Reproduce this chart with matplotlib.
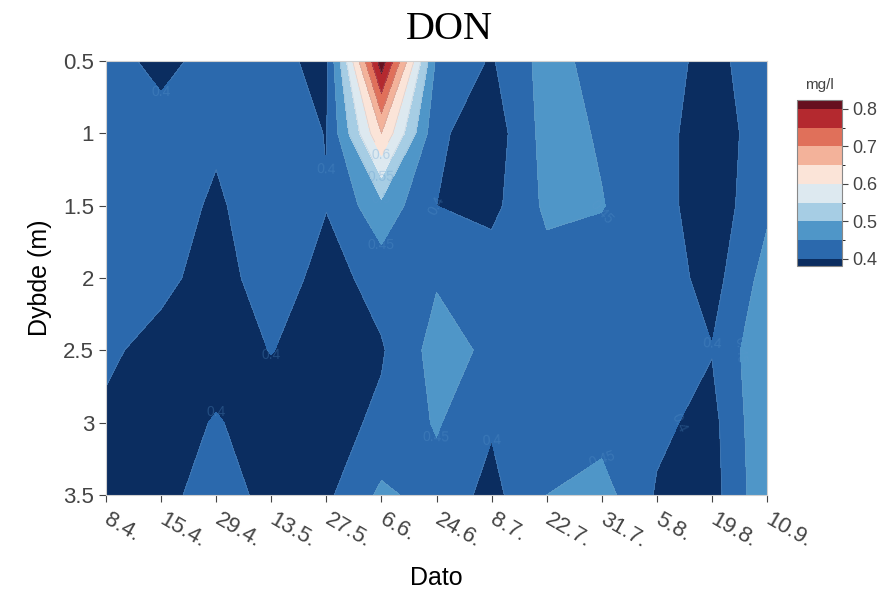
import numpy as np
import matplotlib
matplotlib.use("Agg")
from matplotlib import pyplot as plt
from matplotlib.colors import ListedColormap, BoundaryNorm

plt.rcParams['font.family'] = ['Liberation Sans', 'DejaVu Sans']

# sampling dates and depths
dates = ['8.4.', '15.4.', '29.4.', '13.5.', '27.5.', '6.6.', '24.6.',
         '8.7.', '22.7.', '31.7.', '5.8.', '19.8.', '10.9.']
depths = [0.5, 1.0, 1.5, 2.0, 2.5, 3.0, 3.5]
depth_labels = ['0.5', '1', '1.5', '2', '2.5', '3', '3.5']

# DON (mg/l), one row per depth, one column per date
don = [
    [0.42, 0.385, 0.42, 0.41, 0.39, 0.83, 0.44, 0.395, 0.47, 0.43, 0.42, 0.385, 0.43],
    [0.43, 0.42, 0.41, 0.43, 0.398, 0.65, 0.41, 0.37, 0.47, 0.445, 0.42, 0.37, 0.43],
    [0.43, 0.43, 0.39, 0.44, 0.402, 0.485, 0.40, 0.385, 0.46, 0.452, 0.42, 0.37, 0.44],
    [0.42, 0.415, 0.375, 0.43, 0.38, 0.42, 0.445, 0.43, 0.43, 0.43, 0.43, 0.38, 0.47],
    [0.41, 0.38, 0.37, 0.402, 0.37, 0.395, 0.47, 0.44, 0.43, 0.43, 0.43, 0.402, 0.495],
    [0.39, 0.37, 0.405, 0.37, 0.38, 0.41, 0.455, 0.405, 0.43, 0.43, 0.41, 0.385, 0.495],
    [0.385, 0.38, 0.43, 0.38, 0.39, 0.46, 0.43, 0.385, 0.45, 0.47, 0.395, 0.38, 0.49],
]

levels = [0.35, 0.4, 0.45, 0.5, 0.55, 0.6, 0.65, 0.7, 0.75, 0.8, 0.85]
colors = ['#0b2d60', '#2b69ad', '#4f96c8', '#a6cde4', '#dde9f0',
          '#fbe4d8', '#f3b29a', '#e0705a', '#b4292f', '#67101f']
cmap = ListedColormap(colors)
norm = BoundaryNorm(levels, cmap.N)

x = np.arange(len(dates))
y = np.array(depths)
z = np.array(don)

fig = plt.figure(figsize=(8.8, 5.92), dpi=100)
ax = fig.add_axes([0.1205, 0.1639, 0.7511, 0.7331])

cf = ax.contourf(x, y, z, levels=levels, cmap=cmap, norm=norm)
cl = ax.contour(x, y, z, levels=levels[1:-1], colors='#8aa4bf',
                linewidths=0.5, alpha=0.3)
ax.clabel(cl, levels=[0.4, 0.45, 0.5, 0.55, 0.6], fontsize=10,
          colors='#5b97cc', inline=True, fmt='%g')

ax.set_xlim(0, len(dates) - 1)
ax.set_ylim(3.5, 0.5)
ax.set_xticks(x)
ax.set_xticklabels(dates, rotation=-30, ha='left', va='center',
                   rotation_mode='anchor')
ax.set_yticks(depths)
ax.set_yticklabels(depth_labels)
ax.tick_params(axis='both', colors='#444444', labelsize=16, length=5,
               width=0.8)
ax.tick_params(axis='x', pad=12)
for s in ax.spines.values():
    s.set_color('#d0d0d0')
    s.set_linewidth(0.8)

ax.set_xlabel('Dato', fontsize=18, labelpad=10)
ax.set_ylabel('Dybde (m)', fontsize=18, labelpad=8)

fig.text(0.511, 0.95, 'DON', ha='center', va='center', fontsize=29,
         family='Liberation Serif')

cax = fig.add_axes([0.9057, 0.5507, 0.0511, 0.2804])
cb = fig.colorbar(cf, cax=cax, ticks=[0.4, 0.5, 0.6, 0.7, 0.8])
cb.ax.set_ylim(0.381, 0.824)
cb.ax.set_yticklabels(['0.4', '0.5', '0.6', '0.7', '0.8'])
cb.ax.tick_params(colors='#444444', labelsize=13, length=4, width=0.8)
cb.outline.set_edgecolor('#888888')
cb.ax.set_title('mg/l', fontsize=11, color='#444444', pad=8)

plt.savefig('out.png', dpi=100)
